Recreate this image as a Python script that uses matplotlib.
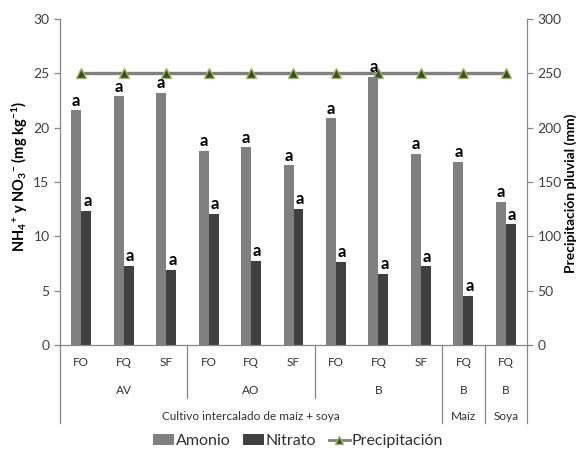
import matplotlib
matplotlib.use("Agg")
import matplotlib.pyplot as plt
import matplotlib.transforms as mtransforms
from matplotlib.lines import Line2D
from matplotlib.patches import Patch
import numpy as np

plt.rcParams['font.family'] = ['Lato', 'DejaVu Sans']
plt.rcParams['mathtext.fontset'] = 'custom'
plt.rcParams['mathtext.rm'] = 'Lato:bold'
plt.rcParams['mathtext.it'] = 'Lato:bold'
plt.rcParams['mathtext.bf'] = 'Lato:bold'

# ---- data ----
fert = ["FO", "FQ", "SF", "FO", "FQ", "SF", "FO", "FQ", "SF", "FQ", "FQ"]
sistema = ["AV", "AO", "B", "B", "B"]
sistema_span = [(0, 3), (3, 6), (6, 9), (9, 10), (10, 11)]
cultivo = ["Cultivo intercalado de maíz + soya", "Maíz", "Soya"]
cultivo_span = [(0, 9), (9, 10), (10, 11)]
amonio = [21.6, 22.9, 23.2, 17.85, 18.2, 16.55, 20.85, 24.7, 17.6, 16.85, 13.2]
nitrato = [12.35, 7.3, 6.9, 12.1, 7.75, 12.55, 7.65, 6.55, 7.25, 4.55, 11.1]
precip = [250, 250, 250, 250, 250, 250, 250, 250, 250, 250, 250]
letras_am = ["a"] * 11
letras_ni = ["a"] * 11

# ---- figure ----
fig = plt.figure(figsize=(5.84, 4.49), dpi=100)
ax = fig.add_axes([60/584, 1-345/449, 467/584, 326/449])
ax2 = ax.twinx()

n = len(fert)
x = np.arange(n)
bw = 0.235
c_am = "#808080"
c_ni = "#404040"
axis_c = "#868686"

ax.bar(x - bw/2, amonio, width=bw, color=c_am, zorder=2)
ax.bar(x + bw/2, nitrato, width=bw, color=c_ni, zorder=2)

for i in range(n):
    ax.text(x[i] - bw/2, amonio[i] + 0.15, letras_am[i], ha="center", va="bottom",
            fontsize=12, fontweight="bold", color="black", zorder=5)
    ax.text(x[i] + bw/2 + 0.03, nitrato[i] + 0.15, letras_ni[i], ha="center", va="bottom",
            fontsize=12, fontweight="bold", color="black", zorder=5)

ax2.plot(x, precip, color="#7f7f7f", lw=2.4, marker="^", markersize=6.5,
         markerfacecolor="#3f4a2a", markeredgecolor="#9bbb59", markeredgewidth=1.0, zorder=3)

ax.set_xlim(-0.5, n - 0.5)
ax.set_ylim(0, 30)
ax.set_yticks(np.arange(0, 31, 5))
ax2.set_ylim(0, 300)
ax2.set_yticks(np.arange(0, 301, 50))
ax.set_xticks([])

for a in (ax, ax2):
    a.spines["top"].set_visible(False)
    for s in ("left", "right", "bottom"):
        a.spines[s].set_color(axis_c)
        a.spines[s].set_linewidth(0.9)
    a.tick_params(axis="y", colors=axis_c, labelcolor="#404040", labelsize=10,
                  length=4, width=0.9, direction="out")
ax.spines["right"].set_visible(False)
ax2.spines["left"].set_visible(False)
ax2.spines["bottom"].set_visible(False)
ax.set_zorder(ax2.get_zorder() + 1)
ax.patch.set_visible(False)
ax2.set_zorder(0)

fig.text(20/584, 1 - 177/449, r"NH$_{4}$$^{+}$ y NO$_{3}$$^{-}$ (mg kg$^{-1}$)", fontsize=10.5,
         fontweight="bold", rotation=90, ha="center", va="center", color="black")
fig.text(571/584, 1 - 193/449, "Precipitación pluvial (mm)", fontsize=10,
         fontweight="bold", rotation=90, ha="center", va="center", color="black")

# ---- multi-level category axis ----
trans = mtransforms.blended_transform_factory(ax.transData, fig.transFigure)
def fy(py):
    return 1 - py / 449

y_axis = fy(345)
for i in range(n):
    ax.text(x[i], fy(363), fert[i], transform=trans, ha="center", va="center",
            fontsize=8.5, color="#303030")
for lab, (s, e) in zip(sistema, sistema_span):
    ax.text((s + e - 1) / 2, fy(391), lab, transform=trans, ha="center", va="center",
            fontsize=8.5, color="#303030")
for lab, (s, e) in zip(cultivo, cultivo_span):
    ax.text((s + e - 1) / 2, fy(417), lab, transform=trans, ha="center", va="center",
            fontsize=8.5, color="#303030")

# separators
for b in (3, 6):
    fig.add_artist(Line2D([b - 0.5, b - 0.5], [y_axis, fy(398)], transform=trans,
                          color=axis_c, lw=0.9))
for b in (0, 9, 10, 11):
    fig.add_artist(Line2D([b - 0.5, b - 0.5], [y_axis, fy(423)], transform=trans,
                          color=axis_c, lw=0.9))

# ---- legend ----
handles = [Patch(facecolor=c_am, edgecolor="none"),
           Patch(facecolor=c_ni, edgecolor="none"),
           Line2D([0], [0], color="#7f7f7f", lw=2, marker="^", markersize=6,
                  markerfacecolor="#3f4a2a", markeredgecolor="#9bbb59")]
fig.legend(handles, ["Amonio", "Nitrato", "Precipitación"], loc="center",
           bbox_to_anchor=(298/584, fy(441)), ncol=3, frameon=False, fontsize=11.5,
           handlelength=1.3, handletextpad=0.1, columnspacing=0.8, labelcolor="#303030")

fig.savefig("out.png", dpi=100)
